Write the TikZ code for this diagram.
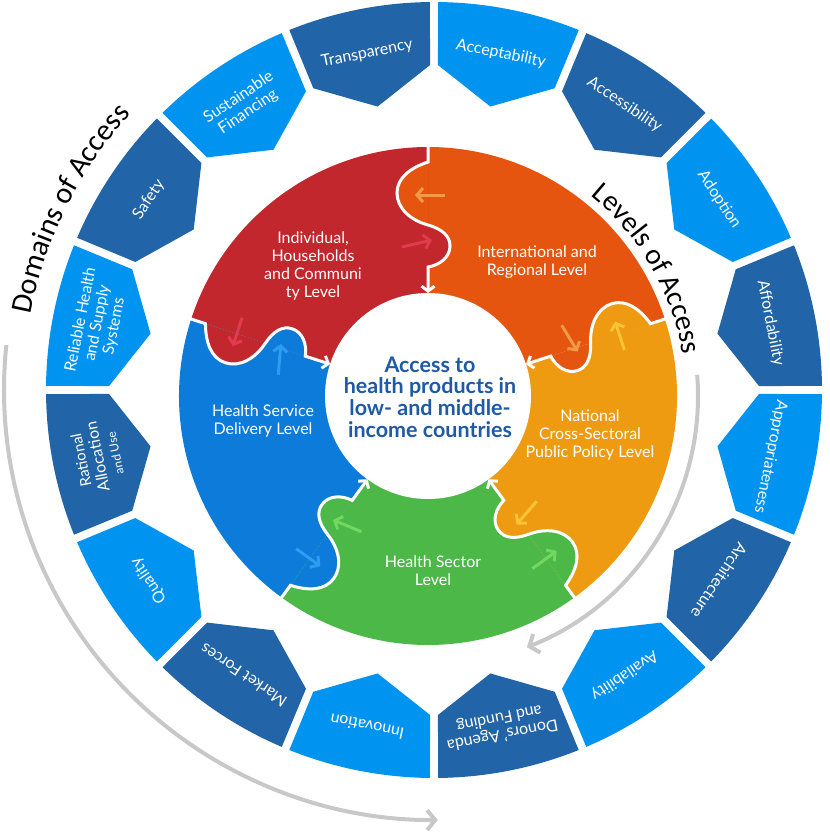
\documentclass[tikz,border=0pt]{standalone}
\usepackage{fontspec}
\setmainfont{Lato}
\newfontfamily\thinfont{Carlito}
\usetikzlibrary{arrows.meta,decorations.text}

\definecolor{darkseg}{HTML}{2164A8}
\definecolor{lightseg}{HTML}{0094F0}
\definecolor{pieceRed}{HTML}{C1272D}
\definecolor{pieceOrange}{HTML}{E5550F}
\definecolor{pieceYellow}{HTML}{EE9B12}
\definecolor{pieceGreen}{HTML}{4CB848}
\definecolor{pieceBlue}{HTML}{0C7BDA}
\definecolor{hintRed}{HTML}{E23A4E}
\definecolor{hintOrange}{HTML}{F3994A}
\definecolor{hintYellow}{HTML}{F8C436}
\definecolor{hintGreen}{HTML}{72D862}
\definecolor{hintBlue}{HTML}{2D9CF2}
\definecolor{hubText}{HTML}{1F5AA6}
\definecolor{arrowGray}{HTML}{C8C8C8}

\begin{document}
\begin{tikzpicture}[x=1pt,y=1pt,
    seglabel/.style={text=white,align=center,font=\fontsize{16}{17}\selectfont},
    piecelabel/.style={text=white,align=center,font=\fontsize{16}{18}\selectfont},
    hublabel/.style={text=hubText,align=center,font=\bfseries\fontsize{21.5}{21.7}\selectfont},
    grayarrow/.style={draw=arrowGray,line width=4pt,-{Straight Barb[length=8pt,width=20pt]}},
    seam/.style={draw=white,line width=3pt,-{Straight Barb[length=5pt,width=13pt]}},
    hint/.style={line width=3pt,-{Straight Barb[length=6pt,width=14pt]}}]
  \useasboundingbox (0,0) rectangle (829,-837);

  % ring of domains
  \begin{scope}[shift={(434,-390)}]
    \foreach \i/\col/\lab in {0/lightseg/Acceptability, 1/darkseg/Accessibility,
        2/lightseg/Adoption, 3/darkseg/Affordability, 4/lightseg/Appropriateness,
        5/darkseg/Architecture, 6/lightseg/Availability,
        7/darkseg/{Donors’ Agenda\\and Funding}, 8/lightseg/Innovation,
        9/darkseg/Market Forces, 10/lightseg/Quality,
        11/darkseg/{\fontsize{15}{16}\selectfont Rational\\Allocation\\{\fontsize{12}{13}\selectfont and Use}},
        12/lightseg/{Reliable Health\\and Supply\\Systems},
        13/darkseg/Safety,
        14/lightseg/{Sustainable\\Financing}, 15/darkseg/Transparency}{
      \pgfmathsetmacro\a{90-22.5*\i}
      \pgfmathsetmacro\b{\a-22.5}
      \pgfmathsetmacro\m{\a-11.25}
      \fill[\col] ({\a-0.6}:388) arc[start angle=\a-0.6,end angle=\b+0.6,radius=388]
        -- ({\b+0.7}:325) -- (\m:289) -- ({\a-0.7}:325) -- cycle;
      \node[seglabel,rotate=\m-90] (dom\i) at (\m:343) {\lab};
    }
    % domains caption and arrow
    \path[decorate,decoration={text along path,text align=center,
        text={|\thinfont\fontsize{30}{31}\selectfont|Domains of Access}}]
      (177:410) arc[start angle=177,end angle=130,radius=410];
    \coordinate (domStart) at (174:430);
    \draw[grayarrow] (domStart) arc[start angle=174,end angle=270.5,radius=430];
  \end{scope}

  % puzzle of levels
  \begin{scope}[shift={(428,-396)}]
    \foreach \s/\col in {18/pieceOrange, 90/pieceRed, 162/pieceBlue, 234/pieceGreen, 306/pieceYellow}
      \fill[\col] (0,0) -- (\s:249) arc[start angle=\s,end angle=\s+72,radius=249] -- cycle;
    % knobs and hint arrows
    \foreach \ang/\cw/\ccw/\cwhint/\ccwhint in {90/pieceOrange/pieceRed/hintOrange/hintRed,
        162/pieceRed/pieceBlue/hintRed/hintBlue, 234/pieceBlue/pieceGreen/hintBlue/hintGreen,
        306/pieceGreen/pieceYellow/hintGreen/hintYellow, 18/pieceYellow/pieceOrange/hintYellow/hintOrange}{
      \begin{scope}[rotate=\ang-90]
        \fill[\cw] (0,234) .. controls (-18,228) and (-31,218) .. (-31,203)
          .. controls (-31,188) and (-18,176) .. (0,171) -- cycle;
        \fill[\ccw] (0,171) .. controls (14,167) and (22,160) .. (22,150)
          .. controls (22,139) and (12,131) .. (0,129) -- cycle;
        \draw[hint,\cwhint] (17,201) -- (-13,201);
        \draw[hint,\ccwhint] (-26,149) -- (4,156);
      \end{scope}
    }
    % hub
    \fill[white] (0,0) circle[radius=103];
    \node[hublabel] (hub) at (2,-1) {Access to\\health products in\\low- and middle-\\income countries};
    % seams
    \foreach \ang in {18,90,162,234,306}
      \draw[seam,rotate=\ang-90] (0,250) -- (0,234) .. controls (-18,228) and (-31,218) .. (-31,203)
        .. controls (-31,188) and (-18,176) .. (0,171) .. controls (14,167) and (22,160) .. (22,150)
        .. controls (22,139) and (12,131) .. (0,129) -- (0,103);
    % levels caption and arrow
    \path[decorate,decoration={text along path,text align=center,
        text={|\thinfont\fontsize{29}{30}\selectfont|Levels of Access}}]
      (60:258) arc[start angle=60,end angle=0,radius=258];
    \coordinate (lvlStart) at (4.5:270);
    \draw[grayarrow] (lvlStart) arc[start angle=4.5,end angle=-68.5,radius=270];
  \end{scope}

  % level labels
  \node[piecelabel] (indiv) at (313,-266) {Individual,\\Households\\and Communi\\ty Level};
  \node[piecelabel] (intl) at (537,-262) {International and\\Regional Level};
  \node[piecelabel] (service) at (263,-421) {Health Service\\Delivery Level};
  \node[piecelabel] (national) at (590,-435) {National\\Cross-Sectoral\\Public Policy Level};
  \node[piecelabel] (sector) at (433,-571) {Health Sector\\Level};
\end{tikzpicture}
\end{document}
